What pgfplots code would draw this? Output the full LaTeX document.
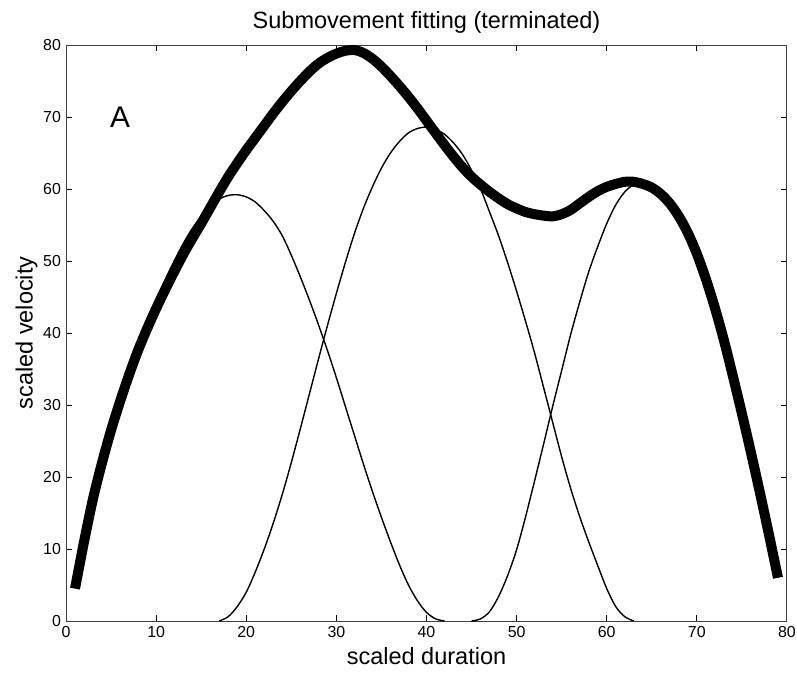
\documentclass[border=0pt]{standalone}
\usepackage{pgfplots}
\pgfplotsset{compat=1.18}
\usepackage{fontspec}
\setmainfont{Liberation Sans}
\begin{document}
\begin{tikzpicture}
\path[use as bounding box] (-33bp,-27bp) rectangle (365.5bp,310.5bp);
\begin{axis}[
  at={(0,0)}, anchor=south west,
  scale only axis, width=360.5bp, height=288bp,
  xmin=0, xmax=80, ymin=0, ymax=80,
  xtick={0,10,...,80}, ytick={0,10,...,80},
  tick align=inside, major tick length=3bp,
  tick style={black, line width=0.5bp},
  axis line style={black!75, line width=0.5bp},
  /pgf/number format/assume math mode=true,
  tick label style={font=\fontsize{8}{9}\selectfont},
  xticklabel style={yshift=1bp},
  yticklabel style={xshift=1bp},
  xlabel={scaled duration}, ylabel={scaled velocity},
  label style={font=\fontsize{11.8}{13}\selectfont},
  xlabel style={yshift=2bp},
  ylabel style={yshift=-4bp},
  title={Submovement fitting (terminated)},
  title style={font=\fontsize{11.8}{13}\selectfont, yshift=-3.5bp},
  clip=false,
]
% thick: total velocity
\addplot[black, line width=5bp, line join=round, smooth] coordinates {
(1,4.5)(2,11)(3,17)(4,22)(5,26.5)(6,30.5)(7,34.2)(8,37.6)(9,40.6)(10,43.4)
(11,46)(12,48.5)(13,50.9)(14,53.1)(15,55.2)(16,57.4)(17,59.6)(18,61.7)(19,63.6)(20,65.4)
(21,67.1)(22,68.8)(23,70.5)(24,72.1)(25,73.6)(26,75)(27,76.3)(28,77.4)(29,78.2)(30,78.8)
(31,79.2)(32,79.3)(33,78.9)(34,78.1)(35,77)(36,75.7)(37,74.3)(38,72.8)(39,71.2)(40,69.5)
(41,67.8)(42,66.1)(43,64.5)(44,63)(45,61.7)(46,60.6)(47,59.6)(48,58.7)(49,57.9)(50,57.3)
(51,56.8)(52,56.5)(53,56.3)(54,56.2)(55,56.5)(56,57.1)(57,58)(58,58.9)(59,59.7)(60,60.3)
(61,60.7)(62,61)(63,61)(64,60.7)(65,60.2)(66,59.3)(67,58)(68,56.2)(69,53.9)(70,51)
(71,47.5)(72,43.5)(73,39)(74,34)(75,28.8)(76,23.4)(77,17.8)(78,12)(79,6)
};
% submovement 1
\addplot[black, line width=0.7bp, smooth] coordinates {
(1,6)(2,12)(3,17.5)(4,22.5)(5,27)(6,31)(7,35)(8,38.5)(9,41.6)(10,44.6)
(11,47.4)(12,50)(13,52.4)(14,54.5)(15,56.2)(16,57.6)(17,58.6)(18,59.1)(19,59.2)(20,58.9)
(21,58.2)(22,57)(23,55.5)(24,53.5)(25,50.8)(26,47.8)(27,44.6)(28,41.2)(29,37.6)(30,33.8)
(31,29.8)(32,25.8)(33,21.8)(34,18)(35,14.4)(36,11)(37,7.8)(38,5)(39,2.8)(40,1.2)(41,0.3)(42,0)
};
% submovement 2
\addplot[black, line width=0.7bp, smooth] coordinates {
(17,0)(18,0.6)(19,2)(20,4)(21,6.8)(22,10)(23,13.6)(24,17.6)(25,22)(26,26.7)
(27,31.5)(28,36.3)(29,41)(30,45.5)(31,49.8)(32,53.8)(33,57.3)(34,60.3)(35,62.9)(36,65)
(37,66.6)(38,67.8)(39,68.4)(40,68.6)(41,68.3)(42,67.6)(43,66.4)(44,64.8)(45,62.6)(46,60)
(47,56.8)(48,53.5)(49,49.8)(50,45.8)(51,41.6)(52,37.2)(53,32.4)(54,27.6)(55,22.8)(56,18.4)
(57,14.5)(58,11)(59,7.7)(60,4.5)(61,2)(62,0.6)(63,0)
};
% submovement 3
\addplot[black, line width=0.7bp, smooth] coordinates {
(45,0)(46,0.3)(47,1.3)(48,3.4)(49,6.3)(50,9.9)(51,14.5)(52,19.5)(53,24.6)(54,29.8)
(55,34.8)(56,39.8)(57,44.3)(58,48.5)(59,52)(60,55.2)(61,57.8)(62,59.6)(63,60.6)(64,60.7)
(65,60.2)(66,59.3)(67,58)(68,56.2)(69,53.9)(70,51)(71,47.5)(72,43.5)(73,39)(74,34)
(75,28.8)(76,23.4)(77,17.8)(78,12)(79,6)
};
\node[font=\fontsize{15}{16}\selectfont] at (axis cs:6,70) {A};
\end{axis}
\end{tikzpicture}
\end{document}
